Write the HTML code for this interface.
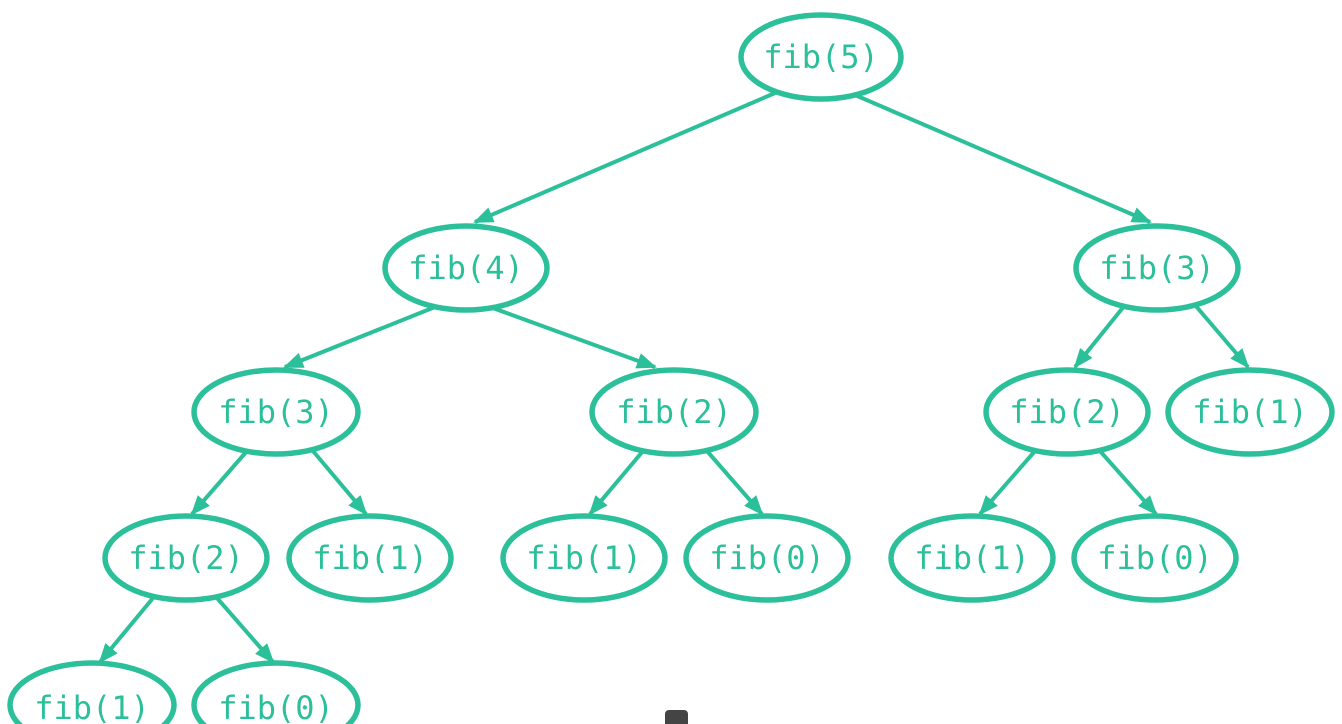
<!DOCTYPE html>
<html><head><meta charset="utf-8"><style>
html,body{margin:0;padding:0;background:#fff;}
svg{display:block;}
text{font-family:"DejaVu Sans Mono","Liberation Mono",monospace;font-size:32px;fill:#2bbf9a;text-anchor:middle;dominant-baseline:central;}
</style></head><body>
<svg width="1342" height="724" viewBox="0 0 1342 724">
<defs>
<marker id="b" markerWidth="20" markerHeight="16" refX="18" refY="8" orient="auto" markerUnits="userSpaceOnUse"><path d="M0,0 L20,8 L0,16 z" fill="#2bbf9a"/></marker></defs>
<g stroke="#2bbf9a" stroke-width="4" fill="none" marker-end="url(#b)">
<line x1="775" y1="93" x2="475" y2="222"/>
<line x1="855" y1="95" x2="1150" y2="222"/>
<line x1="435" y1="307" x2="285" y2="367"/>
<line x1="490" y1="307" x2="655" y2="367"/>
<line x1="1125" y1="305" x2="1075" y2="367"/>
<line x1="1195" y1="305" x2="1248" y2="367"/>
<line x1="247" y1="451" x2="192" y2="514"/>
<line x1="313" y1="451" x2="366" y2="514"/>
<line x1="643" y1="451" x2="590" y2="514"/>
<line x1="707" y1="451" x2="762" y2="514"/>
<line x1="1035" y1="451" x2="980" y2="514"/>
<line x1="1100" y1="451" x2="1156" y2="514"/>
<line x1="153" y1="598" x2="100" y2="662"/>
<line x1="217" y1="598" x2="273" y2="662"/>
</g>
<g stroke="#2bbf9a" stroke-width="5.5" fill="#fff">
<ellipse cx="821" cy="57" rx="80" ry="42"/>
<ellipse cx="466" cy="268" rx="81" ry="42"/>
<ellipse cx="1157" cy="268" rx="81" ry="42"/>
<ellipse cx="276" cy="412" rx="82" ry="42"/>
<ellipse cx="674" cy="412" rx="82" ry="42"/>
<ellipse cx="1067" cy="412" rx="81" ry="42"/>
<ellipse cx="1250" cy="412" rx="82" ry="42"/>
<ellipse cx="186" cy="558" rx="81" ry="42"/>
<ellipse cx="370" cy="558" rx="81" ry="42"/>
<ellipse cx="584" cy="558" rx="81" ry="42"/>
<ellipse cx="767" cy="558" rx="81" ry="42"/>
<ellipse cx="972" cy="558" rx="81" ry="42"/>
<ellipse cx="1155" cy="558" rx="81" ry="42"/>
<ellipse cx="92" cy="705" rx="82" ry="42"/>
<ellipse cx="276" cy="705" rx="82" ry="42"/>
</g>
<text x="821" y="57">fib(5)</text>
<text x="466" y="268">fib(4)</text>
<text x="1157" y="268">fib(3)</text>
<text x="276" y="412">fib(3)</text>
<text x="674" y="412">fib(2)</text>
<text x="1067" y="412">fib(2)</text>
<text x="1250" y="412">fib(1)</text>
<text x="186" y="558">fib(2)</text>
<text x="370" y="558">fib(1)</text>
<text x="584" y="558">fib(1)</text>
<text x="767" y="558">fib(0)</text>
<text x="972" y="558">fib(1)</text>
<text x="1155" y="558">fib(0)</text>
<text x="92" y="708">fib(1)</text>
<text x="276" y="708">fib(0)</text>
<rect x="665" y="710" width="23" height="20" rx="4" fill="#444"/>
</svg>
</body></html>
